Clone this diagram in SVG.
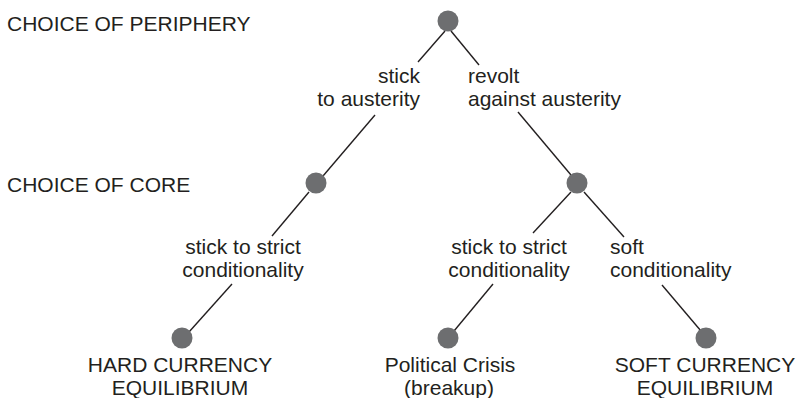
<svg xmlns="http://www.w3.org/2000/svg" width="800" height="398" viewBox="0 0 800 398">
<style>
text{font-family:"Liberation Sans",Arial,Helvetica,sans-serif;font-size:21px;fill:#231f20}
.m{text-anchor:middle}
.e{text-anchor:end}
.n{fill:#6d6e70}
.c line{stroke:#231f20;stroke-width:1.4}
</style>
<rect width="800" height="398" fill="#fff"/>
<text x="7" y="31">CHOICE OF PERIPHERY</text>
<text x="7" y="192">CHOICE OF CORE</text>
<g class="c" id="connectors">
<line x1="445" y1="31" x2="418" y2="62"/>
<line x1="375" y1="115" x2="323" y2="176"/>
<line x1="451" y1="31" x2="479" y2="65"/>
<line x1="518" y1="112" x2="571" y2="175"/>
<line x1="309" y1="192" x2="272" y2="236"/>
<line x1="232" y1="284" x2="189" y2="332"/>
<line x1="571" y1="192" x2="533" y2="233"/>
<line x1="493" y1="284" x2="454" y2="331"/>
<line x1="584" y1="192" x2="624" y2="237"/>
<line x1="662" y1="285" x2="701" y2="331"/>
</g>
<g id="root"><circle class="n" cx="448" cy="21" r="10.5"/></g>
<g id="core-left"><circle class="n" cx="316" cy="183" r="10.5"/></g>
<g id="core-right"><circle class="n" cx="577" cy="183" r="10.5"/></g>
<g id="leaf-hard"><circle class="n" cx="182" cy="338" r="10.5"/>
<text class="m" x="180" y="372">HARD CURRENCY</text><text class="m" x="180" y="395">EQUILIBRIUM</text></g>
<g id="leaf-crisis"><circle class="n" cx="448" cy="338" r="10.5"/>
<text class="m" x="450" y="372">Political Crisis</text><text class="m" x="449" y="395">(breakup)</text></g>
<g id="leaf-soft"><circle class="n" cx="706" cy="338" r="10.5"/>
<text class="m" x="705" y="372">SOFT CURRENCY</text><text class="m" x="705" y="395">EQUILIBRIUM</text></g>
<g id="labels">
<text class="e" x="420" y="83">stick</text>
<text class="e" x="420" y="106">to austerity</text>
<text x="468" y="83">revolt</text>
<text x="468" y="106">against austerity</text>
<text class="m" x="243" y="254">stick to strict</text>
<text class="m" x="243" y="277">conditionality</text>
<text class="m" x="509" y="254">stick to strict</text>
<text class="m" x="509" y="277">conditionality</text>
<text x="610" y="254">soft</text>
<text x="610" y="277">conditionality</text>
</g>
</svg>
